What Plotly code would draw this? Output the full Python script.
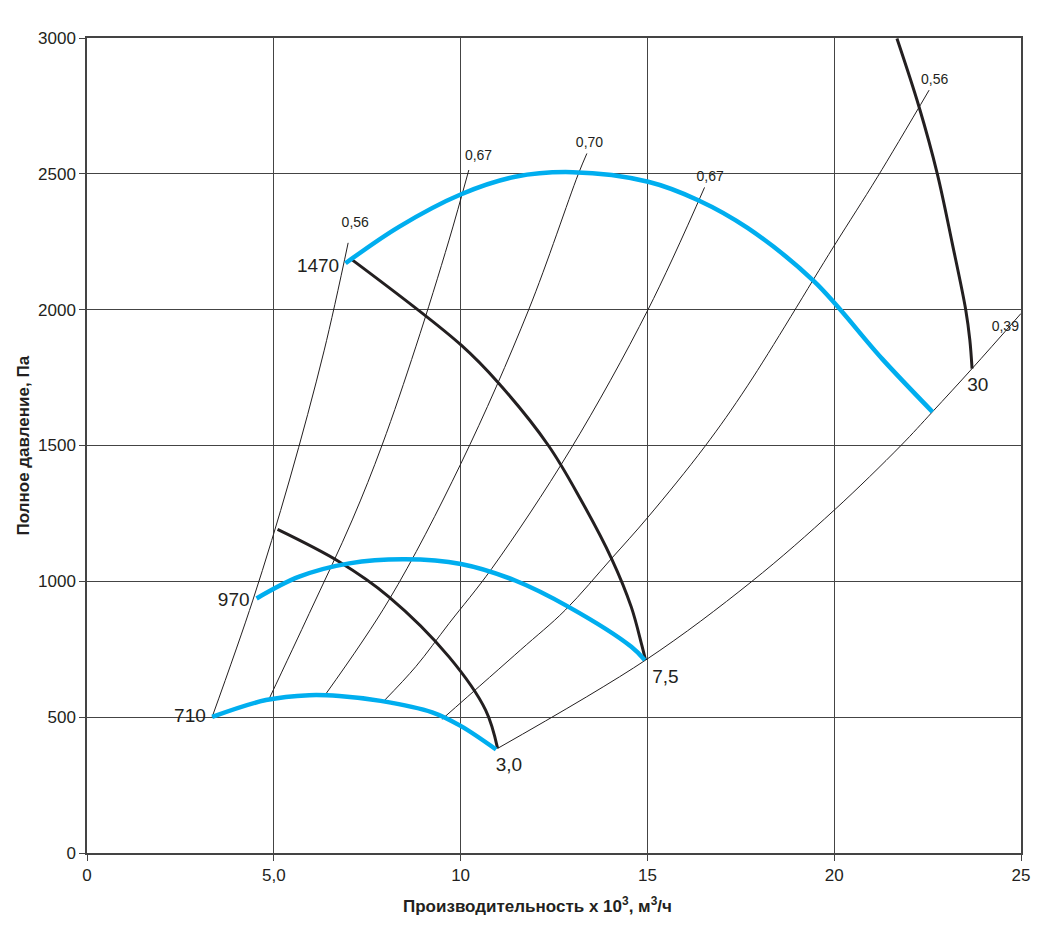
import plotly.graph_objects as go

# ---------------- data ----------------
# fan characteristics (total pressure, Pa, vs flow, 10^3 m3/h) for 1470, 970, 710 rpm
q_1470 = [6.92, 8.35, 10.0, 11.46, 13.0, 15.02, 16.36, 17.69, 19.47, 21.29, 22.63]
p_1470 = [2171, 2305, 2424, 2489, 2506, 2471, 2403, 2300, 2103, 1818, 1624]

q_970 = [4.54, 5.68, 7.02, 8.5, 10.01, 11.46, 12.89, 14.57, 14.93]
p_970 = [937, 1017, 1066, 1081, 1064, 1003, 906, 759, 710]

q_710 = [3.35, 4.79, 5.95, 6.75, 7.86, 9.24, 10.0, 10.95]
p_710 = [501, 563, 581, 578, 560, 518, 468, 381]

# motor power limit curves (3,0 / 7,5 / 30 kW)
q_p30 = [5.1, 6.75, 8.08, 9.69, 10.67, 10.99]
p_p30 = [1191, 1072, 943, 722, 526, 385]

q_p75 = [7.08, 10.01, 11.02, 12.35, 13.2, 14.04, 14.57, 14.85, 14.95]
p_p75 = [2185, 1870, 1729, 1500, 1305, 1084, 905, 765, 710]

q_p300 = [21.68, 22.27, 22.76, 23.16, 23.52, 23.63, 23.69]
p_p300 = [2998, 2747, 2500, 2244, 2000, 1889, 1783]

# efficiency lines
q_e56a = [3.35, 4.44, 5.42, 6.35, 6.99]
p_e56a = [501, 931, 1373, 1851, 2246]

q_e67a = [4.88, 5.95, 7.1, 7.9, 8.8, 9.69, 10.22]
p_e67a = [569, 882, 1226, 1502, 1863, 2256, 2514]

q_e70 = [6.39, 8.08, 10.01, 11.82, 13.15, 13.38]
p_e70 = [585, 931, 1434, 1999, 2499, 2575]

q_e67b = [7.95, 8.8, 9.69, 10.84, 12.93, 15.02, 16.53]
p_e67b = [560, 686, 845, 1048, 1483, 2001, 2450]

q_e56b = [9.5, 11.6, 12.8, 14.04, 15.02, 16.53, 17.69, 19.98, 21.16, 22.54]
p_e56b = [492, 747, 894, 1084, 1237, 1495, 1722, 2231, 2489, 2808]

q_e39 = [10.99, 14.95, 17.78, 20.0, 21.78, 22.63, 23.69, 25.0]
p_e39 = [385, 710, 998, 1262, 1499, 1624, 1783, 1986]

# text labels
eff_labels = ["0,56", "0,67", "0,70", "0,67", "0,56", "0,39"]
eff_lab_q = [7.18, 10.48, 13.45, 16.68, 22.69, 24.58]
eff_lab_p = [2319, 2563, 2613, 2487, 2845, 1935]

rpm_labels = ["1470", "970", "710"]
rpm_lab_q = [6.75, 4.35, 3.18]
rpm_lab_p = [2157, 927, 500]

pow_labels = ["7,5", "3,0", "30"]
pow_lab_q = [15.13, 10.94, 23.56]
pow_lab_p = [644, 320, 1719]

x_tickvals = [0, 5, 10, 15, 20, 25]
x_ticktext = ["0", "5,0", "10", "15", "20", "25"]
y_tickvals = [0, 500, 1000, 1500, 2000, 2500, 3000]

x_title = "Производительность х 10<sup>3</sup>, м<sup>3</sup>/ч"
y_title = "Полное давление, Па"

# ---------------- figure ----------------
BLUE = "#00AEEF"
BLACK = "#231F20"
GRID = "#444444"
FONT = "Liberation Sans, Arial, sans-serif"
SMOOTH = 1.0

fig = go.Figure()

for q, p in [(q_e56a, p_e56a), (q_e67a, p_e67a), (q_e70, p_e70),
             (q_e67b, p_e67b), (q_e56b, p_e56b), (q_e39, p_e39)]:
    fig.add_trace(go.Scatter(x=q, y=p, mode="lines",
                             line=dict(color=BLACK, width=1, shape="spline", smoothing=SMOOTH),
                             hoverinfo="skip", showlegend=False))

for q, p in [(q_p30, p_p30), (q_p75, p_p75), (q_p300, p_p300)]:
    fig.add_trace(go.Scatter(x=q, y=p, mode="lines",
                             line=dict(color=BLACK, width=3, shape="spline", smoothing=SMOOTH),
                             hoverinfo="skip", showlegend=False))

for q, p in [(q_1470, p_1470), (q_970, p_970), (q_710, p_710)]:
    fig.add_trace(go.Scatter(x=q, y=p, mode="lines",
                             line=dict(color=BLUE, width=4.5, shape="spline", smoothing=SMOOTH),
                             hoverinfo="skip", showlegend=False))

fig.add_trace(go.Scatter(x=eff_lab_q, y=eff_lab_p, mode="text", text=eff_labels,
                         textposition="middle center",
                         textfont=dict(family=FONT, size=14, color=BLACK),
                         hoverinfo="skip", showlegend=False))
fig.add_trace(go.Scatter(x=rpm_lab_q, y=rpm_lab_p, mode="text", text=rpm_labels,
                         textposition="middle left",
                         textfont=dict(family=FONT, size=19, color=BLACK),
                         hoverinfo="skip", showlegend=False))
fig.add_trace(go.Scatter(x=pow_lab_q, y=pow_lab_p, mode="text", text=pow_labels,
                         textposition="middle right",
                         textfont=dict(family=FONT, size=19, color=BLACK),
                         hoverinfo="skip", showlegend=False))

axis_common = dict(showgrid=True, gridcolor=GRID, gridwidth=1.2,
                   showline=True, linecolor=GRID, linewidth=1.5, mirror=True,
                   ticks="outside", ticklen=6, tickcolor=GRID, zeroline=False,
                   tickfont=dict(family=FONT, size=17, color=BLACK))

fig.update_xaxes(range=[0, 25], tickvals=x_tickvals, ticktext=x_ticktext, **axis_common)
fig.update_yaxes(range=[0, 3000], tickvals=y_tickvals, **axis_common)

fig.update_layout(
    width=1034, height=914,
    margin=dict(l=79, r=18, t=30, b=69),
    plot_bgcolor="white", paper_bgcolor="white",
    annotations=[
        dict(text="<b>" + x_title + "</b>", xref="paper", yref="paper",
             x=0.482, y=0, yshift=-52, showarrow=False, yanchor="middle",
             font=dict(family=FONT, size=17, color=BLACK)),
        dict(text="<b>" + y_title + "</b>", xref="paper", yref="paper",
             x=0, xshift=-64, y=0.5, showarrow=False, textangle=-90,
             xanchor="center", font=dict(family=FONT, size=17, color=BLACK)),
    ],
)

fig.write_html("out.html")
